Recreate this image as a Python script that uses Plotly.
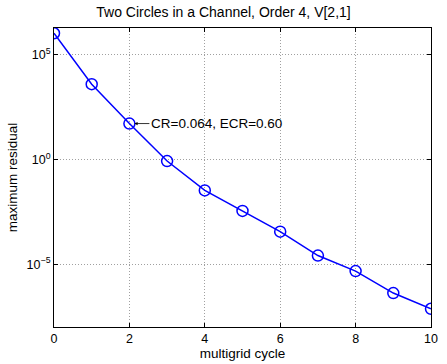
import plotly.graph_objects as go

cycles = [0, 1, 2, 3, 4, 5, 6, 7, 8, 9, 10]
log_residual = [6.02, 3.59, 1.71, -0.08, -1.48, -2.46, -3.45, -4.59, -5.33, -6.38, -7.13]
residual = [10 ** v for v in log_residual]
ytick_vals = [1e-5, 1, 1e5]
ytick_text = ["10<sup>−5</sup>", "10<sup>0</sup>", "10<sup>5</sup>"]
xtick_vals = [0, 2, 4, 6, 8, 10]
title = "Two Circles in a Channel, Order 4, V[2,1]"
note = "CR=0.064, ECR=0.60"

font = "Liberation Sans, Arial, sans-serif"
fig = go.Figure()
fig.add_trace(go.Scatter(
    x=cycles, y=residual, mode="lines+markers",
    line=dict(color="#0000ff", width=1.5),
    marker=dict(symbol="circle-open", size=11, color="#0000ff", line=dict(width=1.5)),
    showlegend=False,
))
fig.add_annotation(
    x=2, y=log_residual[2], xref="x", yref="y", text=note,
    showarrow=True, ax=20, ay=0, axref="pixel", xanchor="left",
    arrowhead=2, arrowsize=0.8, arrowwidth=0.8, arrowcolor="#000000",
    standoff=5, font=dict(family=font, size=13.5, color="#000000"),
)
axis_common = dict(
    showline=True, linecolor="#000000", linewidth=1, mirror="ticks",
    ticks="inside", ticklen=4, tickcolor="#000000",
    showgrid=True, gridcolor="#a0a0a0", griddash="1px,2px", gridwidth=1,
    zeroline=False, tickfont=dict(family=font, size=12.5, color="#000000"),
)
fig.update_layout(
    width=447, height=364,
    margin=dict(l=54, r=9, t=28, b=32),
    paper_bgcolor="#ffffff", plot_bgcolor="#ffffff",
    title=dict(text=title, x=0.5, xanchor="center", y=1 - 12.5 / 364, yanchor="middle",
               font=dict(family=font, size=14, color="#000000")),
    xaxis=dict(range=[0, 10], tickvals=xtick_vals,
               title=dict(text="multigrid cycle", standoff=0,
                          font=dict(family=font, size=13.5, color="#000000")),
               **axis_common),
    yaxis=dict(type="log", range=[-8.0, 6.27], tickvals=ytick_vals, ticktext=ytick_text,
               title=dict(text="maximum residual", standoff=5,
                          font=dict(family=font, size=13.5, color="#000000")),
               **axis_common),
)
fig.write_html("out.html")
